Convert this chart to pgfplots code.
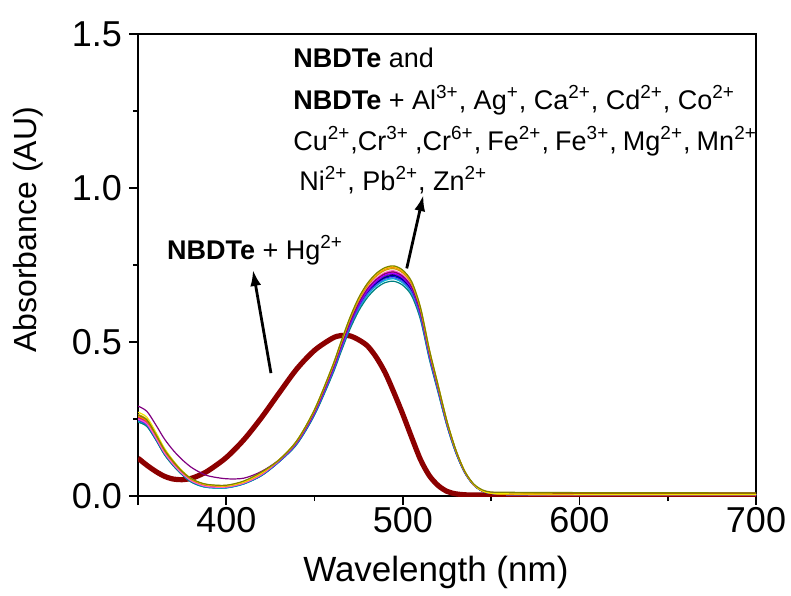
\documentclass[border=0pt]{standalone}
\usepackage{fontspec}
\setmainfont{Liberation Sans}
\usepackage{pgfplots}
\usepackage{pgfplotstable}
\pgfplotsset{compat=1.18}
\usetikzlibrary{arrows.meta}

\definecolor{cBlack}{RGB}{0,0,0}
\definecolor{cRed}{RGB}{255,0,0}
\definecolor{cGreen}{RGB}{0,190,0}
\definecolor{cBlue}{RGB}{0,0,255}
\definecolor{cCyan}{RGB}{0,200,220}
\definecolor{cMagenta}{RGB}{255,0,255}
\definecolor{cYellow}{RGB}{240,230,0}
\definecolor{cOlive}{RGB}{128,128,0}
\definecolor{cNavy}{RGB}{0,0,128}
\definecolor{cPurple}{RGB}{128,0,128}
\definecolor{cDarkCyan}{RGB}{0,128,128}
\definecolor{cRoyal}{RGB}{65,105,225}
\definecolor{cOrange}{RGB}{255,128,0}
\definecolor{cViolet}{RGB}{128,0,255}
\definecolor{cPink}{RGB}{255,100,200}
\definecolor{cGold}{RGB}{200,160,0}
\definecolor{cWine}{RGB}{140,0,0}

% UV-vis spectra: NBDTe alone / with metal ions (k ... gd) and with Hg2+ (hg)
\pgfplotstableread{
lam  k    r    g    b    c    m    y    dy   nv   pu   dc   ro   or   vi   pk   gd   hg
350 .254 .256 .246 .244 .242 .252 .272 .262 .250 .292 .240 .247 .258 .248 .250 .265 .123
355 .239 .241 .231 .229 .227 .237 .256 .247 .235 .275 .226 .232 .243 .233 .235 .249 .100
360 .194 .196 .187 .185 .184 .192 .208 .201 .190 .232 .183 .188 .198 .189 .190 .203 .080
365 .144 .146 .138 .136 .135 .142 .155 .150 .141 .185 .134 .139 .147 .140 .140 .151 .064
370 .107 .108 .102 .100 .099 .105 .115 .112 .104 .148 .098 .102 .109 .104 .103 .112 .055
375 .076 .077 .072 .070 .069 .075 .082 .080 .073 .118 .069 .072 .078 .074 .073 .080 .053
380 .053 .053 .049 .047 .046 .052 .057 .057 .050 .094 .046 .049 .054 .051 .050 .056 .057
385 .040 .040 .036 .034 .033 .039 .043 .044 .037 .077 .034 .036 .041 .038 .037 .043 .068
390 .033 .033 .029 .028 .027 .032 .036 .037 .030 .065 .028 .029 .034 .031 .030 .036 .083
400 .031 .031 .028 .027 .026 .030 .033 .035 .029 .056 .027 .028 .032 .030 .029 .034 .125
410 .044 .044 .041 .040 .039 .043 .046 .049 .042 .058 .040 .041 .045 .043 .042 .047 .183
420 .071 .071 .069 .068 .067 .070 .075 .078 .069 .080 .066 .068 .073 .070 .070 .075 .255
430 .114 .115 .113 .113 .112 .115 .118 .118 .113 .118 .111 .112 .118 .114 .116 .117 .335
440 .174 .175 .173 .172 .170 .174 .180 .180 .172 .176 .168 .171 .179 .173 .176 .178 .413
450 .271 .274 .270 .268 .265 .272 .281 .281 .269 .274 .263 .267 .279 .270 .275 .278 .473
460 .405 .409 .403 .400 .396 .407 .419 .420 .401 .409 .392 .398 .417 .404 .411 .415 .512
465 .483 .488 .480 .478 .473 .485 .500 .501 .479 .488 .468 .475 .497 .482 .490 .495 .521
470 .558 .563 .555 .552 .546 .561 .578 .579 .554 .563 .541 .549 .575 .557 .566 .572 .520
475 .620 .626 .617 .614 .607 .623 .642 .644 .616 .626 .601 .611 .639 .619 .630 .636 .507
480 .666 .673 .663 .659 .652 .669 .690 .691 .662 .673 .645 .656 .686 .665 .676 .683 .487
485 .696 .703 .693 .689 .682 .700 .721 .723 .692 .703 .675 .685 .718 .696 .707 .714 .450
490 .715 .722 .711 .707 .700 .718 .740 .742 .710 .722 .693 .704 .737 .716 .726 .733 .400
495 .720 .727 .716 .712 .705 .723 .745 .747 .716 .727 .697 .708 .742 .721 .731 .738 .335
500 .706 .713 .702 .699 .691 .710 .731 .733 .703 .713 .684 .695 .728 .707 .717 .724 .265
505 .671 .678 .667 .664 .657 .674 .695 .696 .668 .678 .650 .660 .691 .672 .681 .688 .190
510 .590 .596 .587 .584 .578 .593 .611 .612 .588 .596 .572 .581 .608 .591 .599 .605 .118
515 .458 .463 .456 .454 .449 .461 .475 .476 .457 .463 .444 .451 .472 .459 .465 .470 .066
520 .346 .350 .344 .343 .339 .348 .359 .359 .345 .350 .335 .341 .357 .347 .351 .355 .034
525 .234 .236 .233 .232 .229 .235 .242 .243 .233 .236 .227 .230 .241 .235 .238 .240 .015
530 .144 .146 .144 .143 .141 .145 .149 .150 .144 .146 .140 .142 .149 .145 .147 .148 .007
535 .078 .079 .078 .077 .076 .078 .081 .081 .078 .079 .076 .077 .080 .078 .079 .080 .004
540 .037 .037 .037 .037 .036 .037 .038 .040 .037 .037 .036 .036 .038 .037 .038 .038 .003
545 .017 .017 .016 .016 .016 .017 .017 .020 .016 .017 .016 .016 .017 .017 .017 .017 .003
550 .009 .009 .009 .009 .009 .009 .009 .013 .009 .009 .009 .009 .009 .009 .009 .009 .003
560 .005 .005 .005 .005 .005 .005 .007 .012 .005 .005 .005 .005 .006 .005 .005 .005 .003
600 .004 .004 .004 .004 .004 .004 .006 .011 .004 .004 .004 .004 .005 .004 .004 .004 .003
700 .004 .004 .004 .004 .004 .004 .006 .010 .004 .004 .004 .004 .005 .004 .004 .004 .003
}\spectra

\begin{document}
\begin{tikzpicture}
\begin{axis}[
  scale only axis,
  width=309pt, height=231pt,
  xmin=350, xmax=700, ymin=0, ymax=1.5,
  xtick={350,400,500,600,700},
  xticklabels={,400,500,600,700},
  minor xtick={450,550,650},
  ytick={0,0.5,1,1.5},
  minor ytick={0.25,0.75,1.25},
  xtick pos=left, ytick pos=left,
  tick align=outside,
  major tick length=4.5pt, minor tick length=2.5pt,
  tick style={black, line width=0.8pt},
  axis line style={line width=1pt},
  /pgf/number format/assume math mode=true,
  tick label style={font=\fontsize{18}{20}\selectfont},
  xticklabel style={yshift=2.5pt},
  yticklabel style={/pgf/number format/.cd, fixed, fixed zerofill, precision=1},
  xlabel={Wavelength (nm)},
  ylabel={Absorbance (AU)},
  xlabel style={font=\fontsize{17.5}{20}\selectfont, at={(axis description cs:0.482,-0.165)}, anchor=center},
  ylabel style={font=\fontsize{16}{20}\selectfont, at={(axis description cs:-0.178,0.576)}, anchor=center},
  every axis plot/.append style={smooth, line width=0.6pt},
]
\coordinate (bl) at (rel axis cs:0,0);
\coordinate (tr) at (rel axis cs:1,1);

\addplot[cWine, line width=2.6pt] table[x=lam, y=hg]{\spectra};

\addplot[cBlack]    table[x=lam, y=k ]{\spectra};
\addplot[cRed]      table[x=lam, y=r ]{\spectra};
\addplot[cGreen]    table[x=lam, y=g ]{\spectra};
\addplot[cBlue]     table[x=lam, y=b ]{\spectra};
\addplot[cCyan]     table[x=lam, y=c ]{\spectra};
\addplot[cMagenta]  table[x=lam, y=m ]{\spectra};
\addplot[cNavy]     table[x=lam, y=nv]{\spectra};
\addplot[cDarkCyan] table[x=lam, y=dc]{\spectra};
\addplot[cRoyal]    table[x=lam, y=ro]{\spectra};
\addplot[cViolet]   table[x=lam, y=vi]{\spectra};
\addplot[cPink]     table[x=lam, y=pk]{\spectra};
\addplot[cPurple]   table[x=lam, y=pu]{\spectra};
\addplot[cGold]     table[x=lam, y=gd]{\spectra};
\addplot[cOrange]   table[x=lam, y=or]{\spectra};
\addplot[cYellow]   table[x=lam, y=y ]{\spectra};
\addplot[cOlive]    table[x=lam, y=dy]{\spectra};

% annotations
\node[anchor=base west, inner sep=0pt, font=\fontsize{13.5}{15}\selectfont]
  at (axis cs:366.3,0.769) {\textbf{NBDTe} + Hg\textsuperscript{2+}};
\draw[-{Latex[length=8pt,width=5.5pt]}, line width=1.4pt]
  (axis cs:425.3,0.399) -- (axis cs:415.1,0.734);

\begin{scope}[every node/.style={anchor=base west, inner sep=0pt, font=\fontsize{13.5}{15}\selectfont}]
\node at (axis cs:437.8,1.390) {\textbf{NBDTe} and};
\node at (axis cs:437.8,1.256) {\textbf{NBDTe} + Al\textsuperscript{3+}, Ag\textsuperscript{+}, Ca\textsuperscript{2+}, Cd\textsuperscript{2+}, Co\textsuperscript{2+}};
\node at (axis cs:437.8,1.123) {\spaceskip=3.1pt Cu\textsuperscript{2+},Cr\textsuperscript{3+} ,Cr\textsuperscript{6+}, Fe\textsuperscript{2+}, Fe\textsuperscript{3+}, Mg\textsuperscript{2+}, Mn\textsuperscript{2+}};
\node at (axis cs:441.2,0.993) {Ni\textsuperscript{2+}, Pb\textsuperscript{2+}, Zn\textsuperscript{2+}};
\end{scope}
\draw[-{Latex[length=8pt,width=5.5pt]}, line width=1.4pt]
  (axis cs:502.2,0.739) -- (axis cs:511.6,0.977);
\end{axis}
\pgfresetboundingbox
\path ([xshift=-69pt,yshift=-49.5pt]bl) rectangle ([xshift=17.5pt,yshift=17pt]tr);
\end{tikzpicture}
\end{document}
